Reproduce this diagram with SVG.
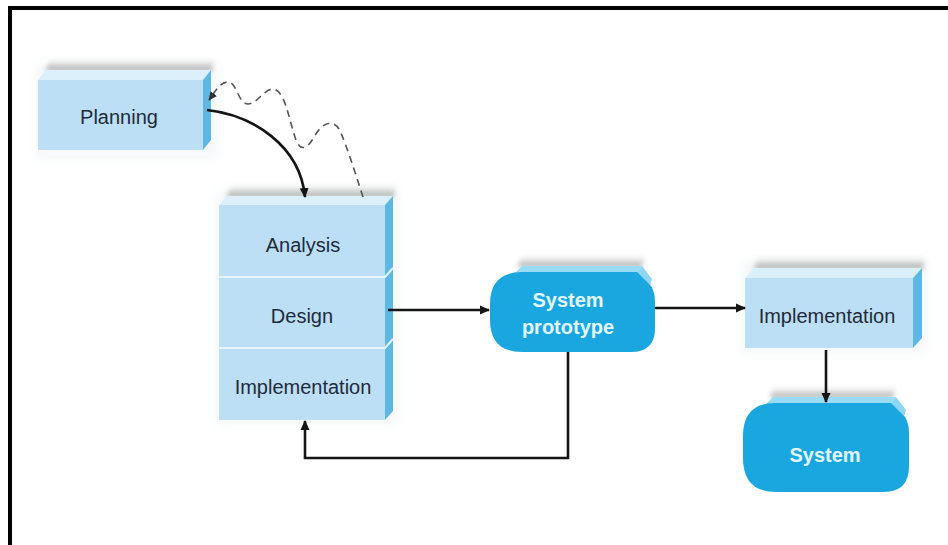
<svg xmlns="http://www.w3.org/2000/svg" width="948" height="545" viewBox="0 0 948 545">
<defs>
<style>
.front{fill:#bcdff5}
.top{fill:#dcf0fb}
.side{fill:#5db8e6}
.blob{fill:#1aa7e0}
.bltop{fill:#9adcf6}
.lbl{font-family:"Liberation Sans",Arial,sans-serif;font-size:20px;fill:#1f2b3b;text-anchor:middle}
.wl{font-family:"Liberation Sans",Arial,sans-serif;font-size:20px;font-weight:bold;fill:#e2f6ff;text-anchor:middle}
.conn{fill:none;stroke:#151515;stroke-width:2.6}
.dash{fill:none;stroke:#555;stroke-width:1.6;stroke-dasharray:7 5}
.shade{fill:url(#sh);filter:url(#blur)}
</style>
<linearGradient id="sh" x1="0" y1="0" x2="0" y2="1">
<stop offset="0" stop-color="#ffffff" stop-opacity="0"/>
<stop offset="1" stop-color="#9a9a9a"/>
</linearGradient>
<filter id="blur" x="-20%" y="-50%" width="140%" height="200%"><feGaussianBlur stdDeviation="2.5"/></filter>
<filter id="soft" x="-20%" y="-20%" width="140%" height="140%"><feGaussianBlur stdDeviation="5"/></filter>
<marker id="ah" viewBox="0 0 10 10" refX="9" refY="5" markerWidth="10" markerHeight="10" markerUnits="userSpaceOnUse" orient="auto"><path d="M0,0.5 L10,5 L0,9.5 Z" fill="#151515"/></marker>
<marker id="ahd" viewBox="0 0 10 10" refX="9" refY="5" markerWidth="9" markerHeight="9" markerUnits="userSpaceOnUse" orient="auto"><path d="M0,0.5 L10,5 L0,9.5 Z" fill="#333"/></marker>
</defs>
<rect width="948" height="545" fill="#fff"/>
<rect x="8" y="6" width="940" height="4" fill="#000"/>
<rect x="8" y="6" width="4" height="539" fill="#000"/>

<g id="planning">
<rect x="36" y="66" width="182" height="92" fill="#eef2f4" filter="url(#soft)" opacity="0.6"/>
<polygon class="shade" points="46,71 212,71 215,56 50,56"/>
<polygon class="top" points="38,80 203,80 211,70 46,70"/>
<polygon class="side" points="203,80 211,70 211,140 203,150"/>
<rect class="front" x="38" y="80" width="165" height="70"/>
<text class="lbl" x="119" y="124">Planning</text>
</g>

<g id="stack">
<rect x="216" y="192" width="182" height="232" fill="#eef2f4" filter="url(#soft)" opacity="0.6"/>
<polygon class="shade" points="227,197 394,197 397,182 231,182"/>
<polygon class="top" points="219,205 385,205 393,196 227,196"/>
<polygon class="side" points="385,205 393,196 393,411 385,420"/>
<rect class="front" x="219" y="205" width="166" height="215"/>
<polyline points="219,277 385,277 393,268" fill="none" stroke="#e6f4fc" stroke-width="2"/>
<polyline points="219,348 385,348 393,339" fill="none" stroke="#e6f4fc" stroke-width="2"/>
<text class="lbl" x="303" y="252">Analysis</text>
<text class="lbl" x="302" y="323">Design</text>
<text class="lbl" x="303" y="394">Implementation</text>
</g>

<g id="prototype">
<polygon class="shade" points="518,267 642,267 646,253 522,253"/>
<polygon class="bltop" points="515,273 636,273 642,266 522,266"/>
<polygon fill="#8fd6f4" points="636,273 642,266 652,279 650,286"/>
<path class="blob" d="M522,272 H637 L651,286 Q655,292 655,302 V328 Q655,352 631,352 H522 Q490,352 490,320 V304 Q490,272 522,272 Z"/>
<text class="wl" x="568" y="307">System</text>
<text class="wl" x="568" y="334">prototype</text>
</g>

<g id="implementation">
<rect x="742" y="262" width="184" height="92" fill="#eef2f4" filter="url(#soft)" opacity="0.6"/>
<polygon class="shade" points="754,269 923,269 926,254 758,254"/>
<polygon class="top" points="745,278 913,278 922,268 754,268"/>
<polygon class="side" points="913,278 922,268 922,338 913,348"/>
<rect class="front" x="745" y="278" width="168" height="70"/>
<text class="lbl" x="827" y="323">Implementation</text>
</g>

<g id="system">
<polygon class="shade" points="770,398 893,398 897,384 774,384"/>
<polygon class="bltop" points="766,404 890,404 896,397 773,397"/>
<polygon fill="#8fd6f4" points="890,404 896,397 906,410 904,417"/>
<path class="blob" d="M775,403 H891 L905,417 Q909,423 909,433 V466 Q909,492 884,492 H776 Q743,492 743,458 V436 Q743,403 775,403 Z"/>
<text class="wl" x="825" y="462">System</text>
</g>

<g id="connectors">
<path class="conn" d="M207,110 C252,115 300,145 305,197" marker-end="url(#ah)"/>
<path class="dash" d="M363,197 C356,175 348,150 341,133 C335,118 323,121 314,137 C307,150 300,151 296,140 C290,124 286,95 276,90 C266,85 258,104 248,104 C238,104 237,82 228,82 C220,82 215,92 209,100" marker-end="url(#ahd)"/>
<path class="conn" d="M388,310 H489" marker-end="url(#ah)"/>
<path class="conn" d="M655,308 H745" marker-end="url(#ah)"/>
<path class="conn" d="M568,352 V458 H305 V421" marker-end="url(#ah)"/>
<path class="conn" d="M826,350 V402" marker-end="url(#ah)"/>
</g>
</svg>
